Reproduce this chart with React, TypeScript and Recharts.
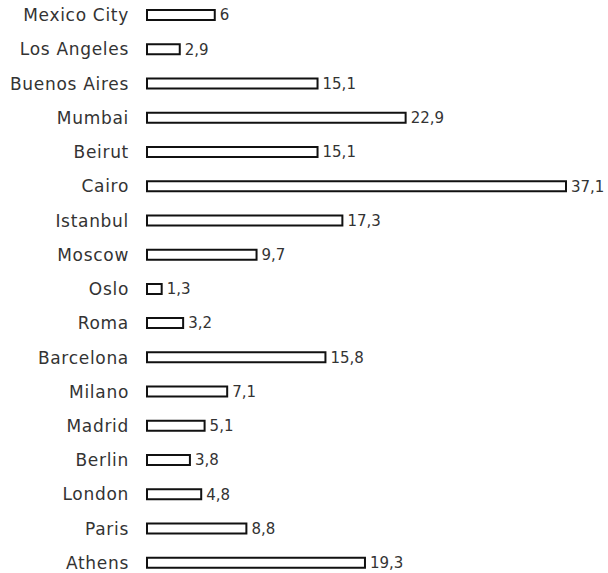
import { BarChart, Bar, XAxis, YAxis, LabelList } from 'recharts';

const cities = [
  'Mexico City', 'Los Angeles', 'Buenos Aires', 'Mumbai', 'Beirut', 'Cairo',
  'Istanbul', 'Moscow', 'Oslo', 'Roma', 'Barcelona', 'Milano', 'Madrid',
  'Berlin', 'London', 'Paris', 'Athens',
];
const values = [6, 2.9, 15.1, 22.9, 15.1, 37.1, 17.3, 9.7, 1.3, 3.2, 15.8, 7.1, 5.1, 3.8, 4.8, 8.8, 19.3];

const data = cities.map((city, i) => ({ city, value: values[i] }));

const FONT = 'DejaVu Sans, Verdana, sans-serif';

export default function App() {
  return (
    <div style={{ position: 'fixed', left: 0, top: 0, width: 608, height: 573, overflow: 'hidden', background: '#fff' }}>
      <div style={{ marginTop: -2 }}>
        <BarChart
          width={608}
          height={582}
          data={data}
          layout="vertical"
          margin={{ top: 0, right: 42, bottom: 0, left: 0 }}
        >
          <XAxis type="number" domain={[0, 37.1]} hide />
          <YAxis
            type="category"
            dataKey="city"
            width={147}
            axisLine={false}
            tickLine={false}
            tickMargin={12}
            tick={{ fill: '#333', fontSize: 17, fontFamily: FONT, letterSpacing: 0.7 }}
            interval={0}
          />
          <Bar dataKey="value" fill="#fff" stroke="#111" strokeWidth={2} barSize={10} isAnimationActive={false}>
            <LabelList
              dataKey="value"
              position="right"
              offset={5}
              formatter={(v: number) => String(v).replace('.', ',')}
              style={{ fill: '#333', fontSize: 15, fontFamily: FONT }}
            />
          </Bar>
        </BarChart>
      </div>
    </div>
  );
}
